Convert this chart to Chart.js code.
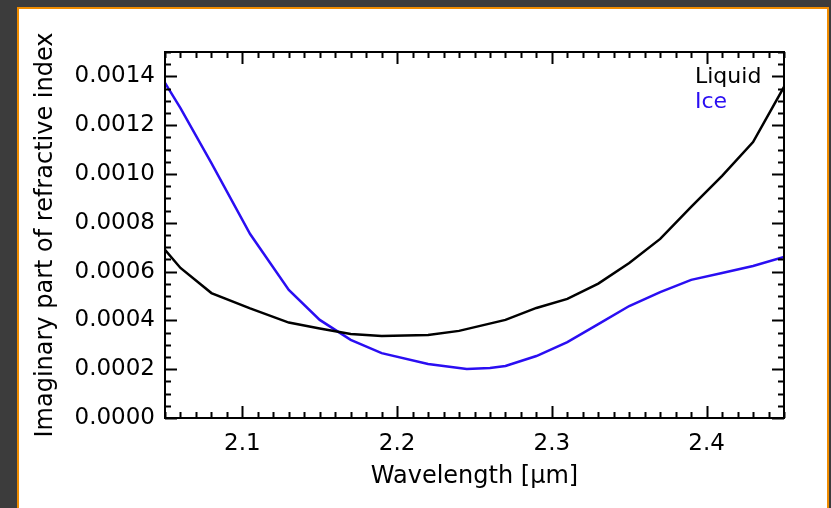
<!DOCTYPE html>
<html>
<head>
<meta charset="utf-8">
<script src="https://cdn.jsdelivr.net/npm/chart.js@4"></script>
<style>
  html, body { margin: 0; padding: 0; background: #3c3c3c; overflow: hidden; }
  #frame {
    position: absolute; left: 17px; top: 7px; width: 808px; height: 560px;
    border: 2px solid #f08c00; background: #fff;
  }
  #wrap { position: absolute; left: 0; top: 0; width: 808px; height: 499px; }
</style>
</head>
<body>
<div id="frame"><div id="wrap"><canvas id="chart"></canvas></div></div>
<script>
// Wavelength in micrometres, imaginary part of refractive index
const liquidWavelength = [2.05, 2.06, 2.08, 2.105, 2.13, 2.15, 2.17, 2.19, 2.22, 2.24, 2.27, 2.29, 2.31, 2.33, 2.35, 2.37, 2.39, 2.41, 2.43, 2.45];
const liquidK = [0.000689, 0.000615, 0.000512, 0.000449, 0.000391, 0.000367, 0.000344, 0.000336, 0.000340, 0.000357,
                 0.000402, 0.000451, 0.000488, 0.000551, 0.000635, 0.000734, 0.000865, 0.000992, 0.001131, 0.001357];
const iceWavelength = [2.05, 2.06, 2.08, 2.105, 2.13, 2.15, 2.17, 2.19, 2.22, 2.245, 2.26, 2.27, 2.29, 2.31, 2.33, 2.35, 2.37, 2.39, 2.41, 2.43, 2.45];
const iceK = [0.001373, 0.001270, 0.001045, 0.000754, 0.000525, 0.000402, 0.000320, 0.000266, 0.000221, 0.000201, 0.000205,
              0.000213, 0.000254, 0.000311, 0.000385, 0.000459, 0.000516, 0.000566, 0.000594, 0.000623, 0.000660];

const xTicks = [2.1, 2.2, 2.3, 2.4];
const yTicks = [0, 0.0002, 0.0004, 0.0006, 0.0008, 0.0010, 0.0012, 0.0014];
const X_MIN = 2.05, X_MAX = 2.45, X_MINOR = 0.01;
const Y_MIN = 0, Y_MAX = 0.0015, Y_MINOR = 0.00005;

const ICE_BLUE = '#2a0ef2';
const TICK_FONT = { family: 'DejaVu Sans', size: 23 };
const TITLE_FONT = { family: 'DejaVu Sans', size: 24 };

// IDL-style frame with inward ticks on all four sides + text legend
const idlFrame = {
  id: 'idlFrame',
  afterDraw(chart) {
    const { ctx, chartArea: a, scales: { x, y } } = chart;
    ctx.save();
    ctx.strokeStyle = '#000';
    ctx.lineWidth = 2;
    ctx.strokeRect(a.left, a.top, a.right - a.left, a.bottom - a.top);
    ctx.beginPath();
    for (let i = 0; X_MIN + i * X_MINOR <= X_MAX + 1e-9; i++) {
      const v = X_MIN + i * X_MINOR;
      const major = xTicks.some(t => Math.abs(t - v) < 1e-6);
      const len = major ? 12 : 6;
      const px = Math.round(x.getPixelForValue(v)) + 0.5;
      ctx.moveTo(px, a.bottom); ctx.lineTo(px, a.bottom - len);
      ctx.moveTo(px, a.top); ctx.lineTo(px, a.top + len);
    }
    for (let i = 0; Y_MIN + i * Y_MINOR <= Y_MAX + 1e-12; i++) {
      const v = Y_MIN + i * Y_MINOR;
      const major = yTicks.some(t => Math.abs(t - v) < 1e-9);
      const len = major ? 12 : 6;
      const py = Math.round(y.getPixelForValue(v)) + 0.5;
      ctx.moveTo(a.left, py); ctx.lineTo(a.left + len, py);
      ctx.moveTo(a.right, py); ctx.lineTo(a.right - len, py);
    }
    ctx.stroke();

    ctx.font = `${TICK_FONT.size - 1}px ${TICK_FONT.family}`;
    ctx.textAlign = 'left';
    ctx.textBaseline = 'alphabetic';
    ctx.fillStyle = '#000';
    ctx.fillText('Liquid', a.right - 89, a.top + 31);
    ctx.fillStyle = ICE_BLUE;
    ctx.fillText('Ice', a.right - 89, a.top + 56);
    ctx.restore();
  }
};

new Chart(document.getElementById('chart'), {
  type: 'line',
  data: {
    datasets: [
      {
        label: 'Liquid',
        data: liquidWavelength.map((w, i) => ({ x: w, y: liquidK[i] })),
        borderColor: '#000',
        borderWidth: 2.5,
        pointRadius: 0,
        tension: 0,
      },
      {
        label: 'Ice',
        data: iceWavelength.map((w, i) => ({ x: w, y: iceK[i] })),
        borderColor: ICE_BLUE,
        borderWidth: 2.5,
        pointRadius: 0,
        tension: 0,
      },
    ],
  },
  options: {
    responsive: true,
    maintainAspectRatio: false,
    animation: false,
    layout: { padding: { top: 43, right: 43, left: 0, bottom: 0 } },
    plugins: { legend: { display: false }, tooltip: { enabled: false } },
    scales: {
      x: {
        type: 'linear',
        min: X_MIN,
        max: X_MAX,
        grid: { display: false, drawTicks: false },
        border: { display: false },
        afterBuildTicks: s => { s.ticks = xTicks.map(v => ({ value: v })); },
        afterFit: s => { s.height = 90; },
        ticks: {
          color: '#000',
          font: TICK_FONT,
          padding: 12,
          maxRotation: 0,
          callback: v => v.toFixed(1),
        },
        title: {
          display: true,
          text: 'Wavelength [μm]',
          color: '#000',
          font: TITLE_FONT,
          padding: { top: 0, bottom: 17 },
        },
      },
      y: {
        type: 'linear',
        min: Y_MIN,
        max: Y_MAX,
        grid: { display: false, drawTicks: false },
        border: { display: false },
        afterBuildTicks: s => { s.ticks = yTicks.map(v => ({ value: v })); },
        afterFit: s => { s.width = 146; },
        ticks: {
          color: '#000',
          font: TICK_FONT,
          padding: 10,
          callback: v => v.toFixed(4),
        },
        title: {
          display: true,
          text: 'Imaginary part of refractive index',
          color: '#000',
          font: TITLE_FONT,
          padding: { top: 12, bottom: 0 },
        },
      },
    },
  },
  plugins: [idlFrame],
});
</script>
</body>
</html>
